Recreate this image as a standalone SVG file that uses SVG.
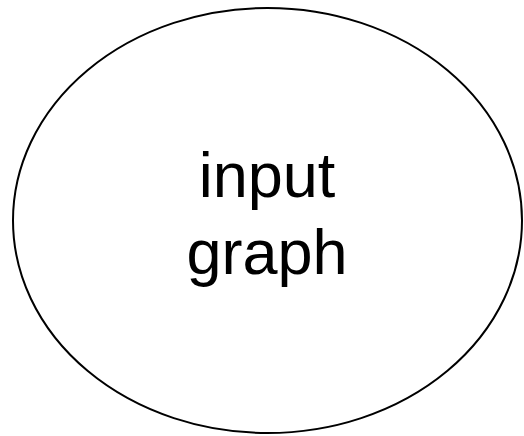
<svg xmlns="http://www.w3.org/2000/svg" width="524" height="436" viewBox="0 0 524 436">
<style>
.node ellipse{fill:#ffffff;stroke:#000000;stroke-width:2}
.label{font-family:"Liberation Sans",Arial,sans-serif;font-size:63px;fill:#000000;text-anchor:middle}
</style>
<rect width="524" height="436" fill="#ffffff"/>
<g id="connectors"></g>
<g id="input-graph" class="node">
<ellipse cx="267.5" cy="220.5" rx="254.5" ry="212.5"/>
<text class="label" x="267" y="197">input</text>
<text class="label" x="267" y="274">graph</text>
</g>
</svg>
